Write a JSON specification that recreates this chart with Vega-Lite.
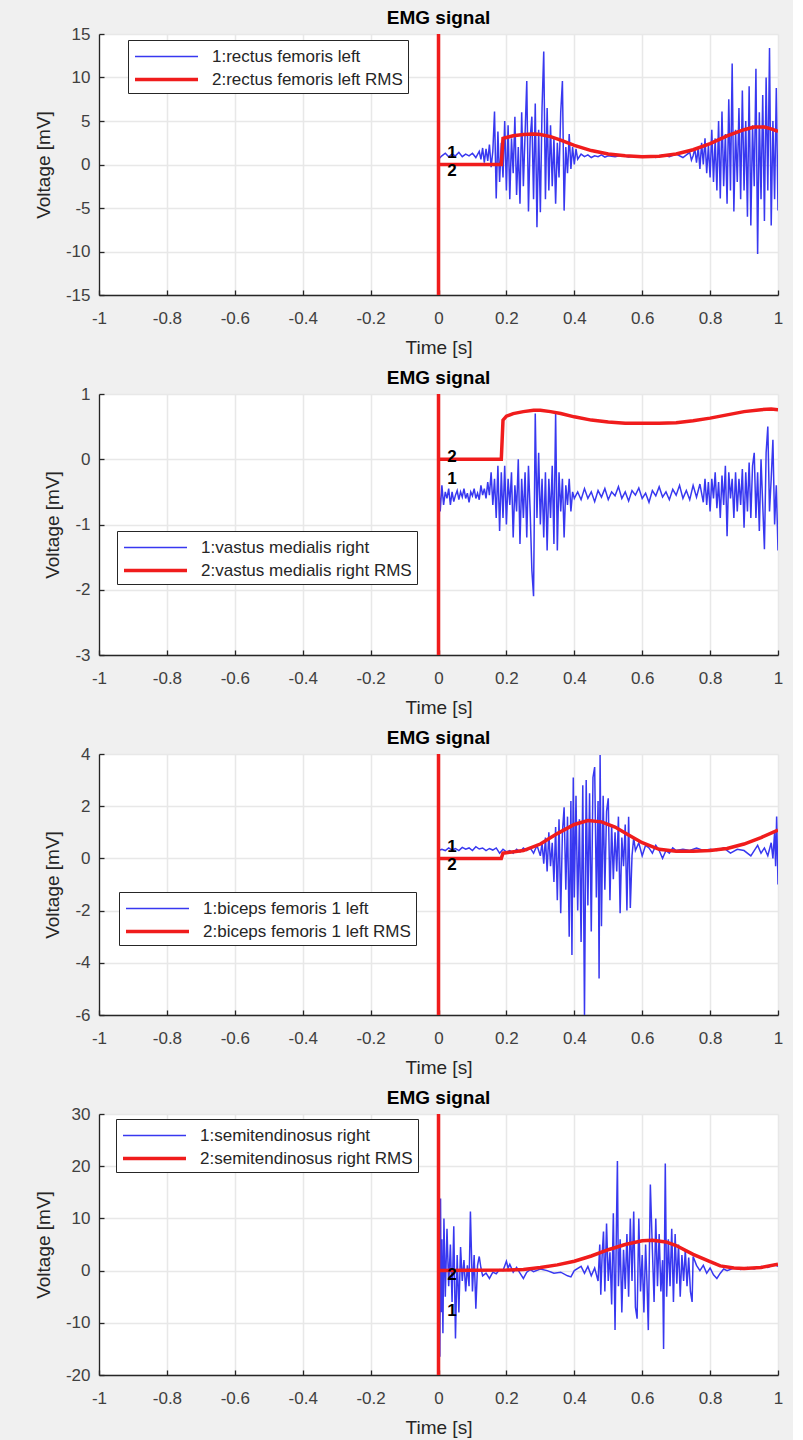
{
"$schema": "https://vega.github.io/schema/vega-lite/v6.json",
"background": "#f0f0f0",
"padding": {"left": 34, "top": 9, "right": 10, "bottom": 5},
"spacing": 12,
"datasets": {
"n1": [{"k":1,"name":"1:rectus femoris left"},{"k":2,"name":"2:rectus femoris left RMS"}],
"n2": [{"k":1,"name":"1:vastus medialis right"},{"k":2,"name":"2:vastus medialis right RMS"}],
"n3": [{"k":1,"name":"1:biceps femoris 1 left"},{"k":2,"name":"2:biceps femoris 1 left RMS"}],
"n4": [{"k":1,"name":"1:semitendinosus right"},{"k":2,"name":"2:semitendinosus right RMS"}],
"z": [{"t":0}],
"l1": [{"lbl":"1","t":0.04,"v":1.3},{"lbl":"2","t":0.04,"v":-0.8}],
"l2": [{"lbl":"2","t":0.04,"v":0.03},{"lbl":"1","t":0.04,"v":-0.3}],
"l3": [{"lbl":"1","t":0.04,"v":0.45},{"lbl":"2","t":0.04,"v":-0.26}],
"l4": [{"lbl":"2","t":0.04,"v":-0.8},{"lbl":"1","t":0.04,"v":-7.7}],
"s1": [
{"k":1,"t":0,"v":0.6},{"k":1,"t":0.01,"v":1.0},{"k":1,"t":0.02,"v":1.3},{"k":1,"t":0.03,"v":0.9},{"k":1,"t":0.04,"v":1.2},{"k":1,"t":0.05,"v":1.0},{"k":1,"t":0.06,"v":1.4},{"k":1,"t":0.07,"v":0.9},{"k":1,"t":0.08,"v":1.2},{"k":1,"t":0.09,"v":1.0},{"k":1,"t":0.1,"v":1.3},{"k":1,"t":0.11,"v":0.8},{"k":1,"t":0.12,"v":1.5},{"k":1,"t":0.125,"v":0.6},{"k":1,"t":0.13,"v":1.9},{"k":1,"t":0.135,"v":0.2},{"k":1,"t":0.14,"v":1.8},{"k":1,"t":0.145,"v":0.4},{"k":1,"t":0.15,"v":2.3},{"k":1,"t":0.155,"v":-0.3},{"k":1,"t":0.16,"v":1.5},{"k":1,"t":0.165,"v":6.1},{"k":1,"t":0.17,"v":-3.9},{"k":1,"t":0.175,"v":3.8},{"k":1,"t":0.18,"v":-2.0},{"k":1,"t":0.185,"v":2.5},{"k":1,"t":0.19,"v":-1.5},{"k":1,"t":0.195,"v":5.0},{"k":1,"t":0.2,"v":-3.0},{"k":1,"t":0.205,"v":4.5},{"k":1,"t":0.21,"v":-4.0},{"k":1,"t":0.215,"v":3.0},{"k":1,"t":0.22,"v":-1.0},{"k":1,"t":0.225,"v":5.5},{"k":1,"t":0.23,"v":-3.5},{"k":1,"t":0.235,"v":2.0},{"k":1,"t":0.24,"v":-4.5},{"k":1,"t":0.245,"v":6.0},{"k":1,"t":0.25,"v":-2.5},{"k":1,"t":0.255,"v":3.5},{"k":1,"t":0.26,"v":9.6},{"k":1,"t":0.265,"v":-5.4},{"k":1,"t":0.27,"v":3.0},{"k":1,"t":0.275,"v":5.5},{"k":1,"t":0.28,"v":-4.0},{"k":1,"t":0.285,"v":7.0},{"k":1,"t":0.29,"v":-7.2},{"k":1,"t":0.295,"v":4.0},{"k":1,"t":0.3,"v":-5.5},{"k":1,"t":0.305,"v":6.5},{"k":1,"t":0.31,"v":13.0},{"k":1,"t":0.315,"v":-4.0},{"k":1,"t":0.32,"v":6.5},{"k":1,"t":0.325,"v":-3.0},{"k":1,"t":0.33,"v":4.5},{"k":1,"t":0.335,"v":-2.5},{"k":1,"t":0.34,"v":3.0},{"k":1,"t":0.345,"v":-4.5},{"k":1,"t":0.35,"v":2.5},{"k":1,"t":0.355,"v":-1.5},{"k":1,"t":0.36,"v":6.0},{"k":1,"t":0.365,"v":9.6},{"k":1,"t":0.37,"v":-5.3},{"k":1,"t":0.375,"v":2.0},{"k":1,"t":0.38,"v":-1.0},{"k":1,"t":0.385,"v":3.5},{"k":1,"t":0.39,"v":-0.5},{"k":1,"t":0.395,"v":2.0},{"k":1,"t":0.4,"v":0.0},{"k":1,"t":0.405,"v":1.8},{"k":1,"t":0.41,"v":0.6},{"k":1,"t":0.42,"v":1.2},{"k":1,"t":0.43,"v":0.9},{"k":1,"t":0.44,"v":1.1},{"k":1,"t":0.45,"v":0.8},{"k":1,"t":0.46,"v":1.0},{"k":1,"t":0.47,"v":0.9},{"k":1,"t":0.48,"v":1.1},{"k":1,"t":0.49,"v":0.85},{"k":1,"t":0.5,"v":1.0},{"k":1,"t":0.52,"v":0.9},{"k":1,"t":0.54,"v":1.05},{"k":1,"t":0.56,"v":0.85},{"k":1,"t":0.58,"v":1.0},{"k":1,"t":0.6,"v":0.9},{"k":1,"t":0.62,"v":1.0},{"k":1,"t":0.64,"v":0.8},{"k":1,"t":0.66,"v":1.1},{"k":1,"t":0.68,"v":0.9},{"k":1,"t":0.7,"v":1.2},{"k":1,"t":0.72,"v":0.8},{"k":1,"t":0.74,"v":1.4},{"k":1,"t":0.745,"v":0.5},
{"k":1,"t":0.75,"v":1.0},{"k":1,"t":0.755,"v":1.8},{"k":1,"t":0.76,"v":0.2},{"k":1,"t":0.765,"v":2.0},{"k":1,"t":0.77,"v":-0.5},{"k":1,"t":0.775,"v":2.5},{"k":1,"t":0.78,"v":0.0},{"k":1,"t":0.785,"v":3.0},{"k":1,"t":0.79,"v":-1.0},{"k":1,"t":0.795,"v":2.2},{"k":1,"t":0.8,"v":-1.5},{"k":1,"t":0.805,"v":4.0},{"k":1,"t":0.81,"v":-2.0},{"k":1,"t":0.815,"v":3.0},{"k":1,"t":0.82,"v":-3.0},{"k":1,"t":0.825,"v":5.0},{"k":1,"t":0.83,"v":-3.9},{"k":1,"t":0.835,"v":6.1},{"k":1,"t":0.84,"v":-2.5},{"k":1,"t":0.845,"v":3.5},{"k":1,"t":0.85,"v":-4.5},{"k":1,"t":0.855,"v":7.5},{"k":1,"t":0.86,"v":-3.0},{"k":1,"t":0.865,"v":11.6},{"k":1,"t":0.87,"v":-5.4},{"k":1,"t":0.875,"v":4.0},{"k":1,"t":0.88,"v":-2.0},{"k":1,"t":0.885,"v":6.5},{"k":1,"t":0.89,"v":-4.0},{"k":1,"t":0.895,"v":8.5},{"k":1,"t":0.9,"v":-3.0},{"k":1,"t":0.905,"v":5.0},{"k":1,"t":0.91,"v":-6.0},{"k":1,"t":0.915,"v":9.0},{"k":1,"t":0.92,"v":-7.0},{"k":1,"t":0.925,"v":4.5},{"k":1,"t":0.93,"v":-2.5},{"k":1,"t":0.935,"v":11.0},{"k":1,"t":0.94,"v":-10.3},{"k":1,"t":0.945,"v":6.0},{"k":1,"t":0.95,"v":-4.0},{"k":1,"t":0.955,"v":8.0},{"k":1,"t":0.96,"v":-6.5},{"k":1,"t":0.965,"v":10.0},{"k":1,"t":0.97,"v":-3.0},{"k":1,"t":0.975,"v":13.4},{"k":1,"t":0.98,"v":-7.0},{"k":1,"t":0.985,"v":5.0},{"k":1,"t":0.99,"v":-4.0},{"k":1,"t":0.995,"v":8.8},{"k":1,"t":1.0,"v":-5.3},
{"k":2,"t":0,"v":0},{"k":2,"t":0.185,"v":0},{"k":2,"t":0.19,"v":3.0},{"k":2,"t":0.2,"v":3.1},{"k":2,"t":0.22,"v":3.3},{"k":2,"t":0.25,"v":3.45},{"k":2,"t":0.28,"v":3.5},{"k":2,"t":0.3,"v":3.45},{"k":2,"t":0.33,"v":3.2},{"k":2,"t":0.36,"v":2.8},{"k":2,"t":0.4,"v":2.2},{"k":2,"t":0.45,"v":1.6},{"k":2,"t":0.5,"v":1.2},{"k":2,"t":0.55,"v":1.0},{"k":2,"t":0.6,"v":0.9},{"k":2,"t":0.65,"v":0.95},{"k":2,"t":0.7,"v":1.2},{"k":2,"t":0.75,"v":1.7},{"k":2,"t":0.8,"v":2.4},{"k":2,"t":0.85,"v":3.3},{"k":2,"t":0.9,"v":4.0},{"k":2,"t":0.93,"v":4.3},{"k":2,"t":0.96,"v":4.3},{"k":2,"t":0.98,"v":4.1},{"k":2,"t":1.0,"v":3.8}
],
"s2": [
{"k":1,"t":0,"v":-0.3},{"k":1,"t":0.005,"v":-0.8},{"k":1,"t":0.01,"v":-0.4},{"k":1,"t":0.015,"v":-0.7},{"k":1,"t":0.02,"v":-0.5},{"k":1,"t":0.025,"v":-0.6},{"k":1,"t":0.03,"v":-0.45},{"k":1,"t":0.035,"v":-0.7},{"k":1,"t":0.04,"v":-0.5},{"k":1,"t":0.045,"v":-0.65},{"k":1,"t":0.05,"v":-0.55},{"k":1,"t":0.055,"v":-0.48},{"k":1,"t":0.06,"v":-0.62},{"k":1,"t":0.065,"v":-0.5},{"k":1,"t":0.07,"v":-0.58},{"k":1,"t":0.075,"v":-0.45},{"k":1,"t":0.08,"v":-0.6},{"k":1,"t":0.085,"v":-0.52},{"k":1,"t":0.09,"v":-0.66},{"k":1,"t":0.095,"v":-0.5},{"k":1,"t":0.1,"v":-0.56},{"k":1,"t":0.105,"v":-0.45},{"k":1,"t":0.11,"v":-0.6},{"k":1,"t":0.115,"v":-0.52},{"k":1,"t":0.12,"v":-0.62},{"k":1,"t":0.125,"v":-0.4},{"k":1,"t":0.13,"v":-0.55},{"k":1,"t":0.135,"v":-0.45},{"k":1,"t":0.14,"v":-0.6},{"k":1,"t":0.145,"v":-0.35},{"k":1,"t":0.15,"v":-0.55},{"k":1,"t":0.155,"v":-0.2},{"k":1,"t":0.16,"v":-0.7},{"k":1,"t":0.165,"v":-0.3},{"k":1,"t":0.17,"v":-0.9},{"k":1,"t":0.175,"v":-0.1},{"k":1,"t":0.18,"v":-1.1},{"k":1,"t":0.185,"v":-0.2},{"k":1,"t":0.19,"v":-0.9},{"k":1,"t":0.195,"v":-0.1},{"k":1,"t":0.2,"v":-1.0},{"k":1,"t":0.205,"v":-0.3},{"k":1,"t":0.21,"v":-0.7},{"k":1,"t":0.215,"v":-0.2},{"k":1,"t":0.22,"v":-1.2},{"k":1,"t":0.225,"v":-0.4},{"k":1,"t":0.23,"v":-0.8},{"k":1,"t":0.235,"v":0.0},{"k":1,"t":0.24,"v":-1.3},{"k":1,"t":0.245,"v":-0.3},{"k":1,"t":0.25,"v":-0.9},{"k":1,"t":0.255,"v":-0.2},{"k":1,"t":0.26,"v":-1.2},{"k":1,"t":0.265,"v":-0.1},{"k":1,"t":0.27,"v":-0.8},{"k":1,"t":0.275,"v":-1.7},{"k":1,"t":0.28,"v":-2.1},{"k":1,"t":0.285,"v":0.7},{"k":1,"t":0.29,"v":-0.9},{"k":1,"t":0.295,"v":0.1},{"k":1,"t":0.3,"v":-1.0},{"k":1,"t":0.305,"v":-0.3},{"k":1,"t":0.31,"v":-1.2},{"k":1,"t":0.315,"v":-0.2},{"k":1,"t":0.32,"v":-1.4},{"k":1,"t":0.325,"v":-0.3},{"k":1,"t":0.33,"v":-0.9},{"k":1,"t":0.335,"v":-0.1},{"k":1,"t":0.34,"v":-1.3},{"k":1,"t":0.345,"v":0.7},{"k":1,"t":0.35,"v":-1.4},{"k":1,"t":0.355,"v":-0.2},{"k":1,"t":0.36,"v":-0.8},{"k":1,"t":0.365,"v":-0.3},{"k":1,"t":0.37,"v":-1.2},{"k":1,"t":0.375,"v":-0.4},{"k":1,"t":0.38,"v":-0.7},{"k":1,"t":0.385,"v":-0.3},{"k":1,"t":0.39,"v":-0.8},{"k":1,"t":0.395,"v":-0.5},{"k":1,"t":0.4,"v":-0.6},
{"k":1,"t":0.41,"v":-0.5},{"k":1,"t":0.42,"v":-0.62},{"k":1,"t":0.43,"v":-0.45},{"k":1,"t":0.44,"v":-0.6},{"k":1,"t":0.45,"v":-0.5},{"k":1,"t":0.46,"v":-0.65},{"k":1,"t":0.47,"v":-0.48},{"k":1,"t":0.48,"v":-0.58},{"k":1,"t":0.49,"v":-0.45},{"k":1,"t":0.5,"v":-0.62},{"k":1,"t":0.51,"v":-0.5},{"k":1,"t":0.52,"v":-0.56},{"k":1,"t":0.53,"v":-0.42},{"k":1,"t":0.54,"v":-0.6},{"k":1,"t":0.55,"v":-0.5},{"k":1,"t":0.56,"v":-0.64},{"k":1,"t":0.57,"v":-0.48},{"k":1,"t":0.58,"v":-0.55},{"k":1,"t":0.59,"v":-0.44},{"k":1,"t":0.6,"v":-0.6},{"k":1,"t":0.61,"v":-0.52},{"k":1,"t":0.62,"v":-0.66},{"k":1,"t":0.63,"v":-0.48},{"k":1,"t":0.64,"v":-0.56},{"k":1,"t":0.65,"v":-0.42},{"k":1,"t":0.66,"v":-0.58},{"k":1,"t":0.67,"v":-0.5},{"k":1,"t":0.68,"v":-0.62},{"k":1,"t":0.69,"v":-0.46},{"k":1,"t":0.7,"v":-0.55},{"k":1,"t":0.71,"v":-0.4},{"k":1,"t":0.72,"v":-0.6},{"k":1,"t":0.73,"v":-0.48},{"k":1,"t":0.74,"v":-0.62},{"k":1,"t":0.75,"v":-0.4},{"k":1,"t":0.76,"v":-0.58},{"k":1,"t":0.77,"v":-0.38},{"k":1,"t":0.78,"v":-0.66},
{"k":1,"t":0.785,"v":-0.3},{"k":1,"t":0.79,"v":-0.7},{"k":1,"t":0.795,"v":-0.35},{"k":1,"t":0.8,"v":-0.8},{"k":1,"t":0.805,"v":-0.3},{"k":1,"t":0.81,"v":-0.6},{"k":1,"t":0.815,"v":-0.2},{"k":1,"t":0.82,"v":-0.75},{"k":1,"t":0.825,"v":-0.35},{"k":1,"t":0.83,"v":-0.9},{"k":1,"t":0.835,"v":-0.25},{"k":1,"t":0.84,"v":-0.7},{"k":1,"t":0.845,"v":-0.1},{"k":1,"t":0.85,"v":-1.18},{"k":1,"t":0.855,"v":-0.2},{"k":1,"t":0.86,"v":-0.6},{"k":1,"t":0.865,"v":-0.3},{"k":1,"t":0.87,"v":-0.9},{"k":1,"t":0.875,"v":-0.2},{"k":1,"t":0.88,"v":-0.8},{"k":1,"t":0.885,"v":-0.3},{"k":1,"t":0.89,"v":-0.7},{"k":1,"t":0.895,"v":-0.15},{"k":1,"t":0.9,"v":-1.05},{"k":1,"t":0.905,"v":-0.2},{"k":1,"t":0.91,"v":-0.8},{"k":1,"t":0.915,"v":-0.05},{"k":1,"t":0.92,"v":-0.9},{"k":1,"t":0.925,"v":-0.1},{"k":1,"t":0.93,"v":0.1},{"k":1,"t":0.935,"v":-0.9},{"k":1,"t":0.94,"v":-0.2},{"k":1,"t":0.945,"v":-1.1},{"k":1,"t":0.95,"v":0.0},{"k":1,"t":0.955,"v":-0.7},{"k":1,"t":0.96,"v":-1.38},{"k":1,"t":0.965,"v":0.1},{"k":1,"t":0.97,"v":0.5},{"k":1,"t":0.975,"v":-0.8},{"k":1,"t":0.98,"v":-0.3},{"k":1,"t":0.985,"v":0.3},{"k":1,"t":0.99,"v":-1.0},{"k":1,"t":0.995,"v":-0.4},{"k":1,"t":1.0,"v":-1.4},
{"k":2,"t":0,"v":0},{"k":2,"t":0.185,"v":0},{"k":2,"t":0.19,"v":0.6},{"k":2,"t":0.2,"v":0.66},{"k":2,"t":0.22,"v":0.7},{"k":2,"t":0.25,"v":0.73},{"k":2,"t":0.28,"v":0.75},{"k":2,"t":0.3,"v":0.75},{"k":2,"t":0.33,"v":0.73},{"k":2,"t":0.36,"v":0.7},{"k":2,"t":0.4,"v":0.65},{"k":2,"t":0.45,"v":0.6},{"k":2,"t":0.5,"v":0.57},{"k":2,"t":0.55,"v":0.55},{"k":2,"t":0.6,"v":0.55},{"k":2,"t":0.65,"v":0.55},{"k":2,"t":0.7,"v":0.56},{"k":2,"t":0.75,"v":0.59},{"k":2,"t":0.8,"v":0.63},{"k":2,"t":0.85,"v":0.68},{"k":2,"t":0.9,"v":0.73},{"k":2,"t":0.95,"v":0.76},{"k":2,"t":0.98,"v":0.77},{"k":2,"t":1.0,"v":0.76}
],
"s3": [
{"k":1,"t":0,"v":0.3},{"k":1,"t":0.01,"v":0.35},{"k":1,"t":0.02,"v":0.3},{"k":1,"t":0.03,"v":0.4},{"k":1,"t":0.04,"v":0.32},{"k":1,"t":0.05,"v":0.38},{"k":1,"t":0.06,"v":0.3},{"k":1,"t":0.07,"v":0.42},{"k":1,"t":0.08,"v":0.35},{"k":1,"t":0.09,"v":0.4},{"k":1,"t":0.1,"v":0.3},{"k":1,"t":0.11,"v":0.45},{"k":1,"t":0.12,"v":0.36},{"k":1,"t":0.13,"v":0.4},{"k":1,"t":0.14,"v":0.3},{"k":1,"t":0.15,"v":0.38},{"k":1,"t":0.16,"v":0.32},{"k":1,"t":0.17,"v":0.4},{"k":1,"t":0.18,"v":0.2},{"k":1,"t":0.19,"v":0.35},{"k":1,"t":0.2,"v":0.25},{"k":1,"t":0.21,"v":0.3},{"k":1,"t":0.22,"v":0.2},{"k":1,"t":0.23,"v":0.35},{"k":1,"t":0.24,"v":0.25},{"k":1,"t":0.25,"v":0.4},{"k":1,"t":0.26,"v":0.3},{"k":1,"t":0.27,"v":0.4},{"k":1,"t":0.28,"v":0.2},{"k":1,"t":0.29,"v":0.5},{"k":1,"t":0.3,"v":0.1},{"k":1,"t":0.305,"v":0.6},{"k":1,"t":0.31,"v":-0.2},{"k":1,"t":0.315,"v":0.8},{"k":1,"t":0.32,"v":-0.5},{"k":1,"t":0.325,"v":1.0},{"k":1,"t":0.33,"v":-0.3},{"k":1,"t":0.335,"v":0.6},{"k":1,"t":0.34,"v":-0.9},{"k":1,"t":0.345,"v":1.2},{"k":1,"t":0.35,"v":-1.6},{"k":1,"t":0.355,"v":1.5},{"k":1,"t":0.36,"v":-2.1},{"k":1,"t":0.365,"v":1.0},{"k":1,"t":0.37,"v":1.96},{"k":1,"t":0.375,"v":-1.2},{"k":1,"t":0.38,"v":1.6},{"k":1,"t":0.385,"v":-3.0},{"k":1,"t":0.39,"v":2.2},{"k":1,"t":0.393,"v":-3.7},{"k":1,"t":0.397,"v":3.1},{"k":1,"t":0.4,"v":-1.5},{"k":1,"t":0.405,"v":2.4},{"k":1,"t":0.41,"v":-2.0},{"k":1,"t":0.415,"v":1.5},{"k":1,"t":0.42,"v":-3.2},{"k":1,"t":0.425,"v":2.8},{"k":1,"t":0.43,"v":-6.0},{"k":1,"t":0.435,"v":3.0},{"k":1,"t":0.44,"v":-1.8},{"k":1,"t":0.445,"v":2.5},{"k":1,"t":0.45,"v":-2.8},{"k":1,"t":0.455,"v":3.1},{"k":1,"t":0.46,"v":3.5},{"k":1,"t":0.465,"v":-1.5},{"k":1,"t":0.47,"v":2.2},{"k":1,"t":0.473,"v":-4.6},{"k":1,"t":0.476,"v":3.96},{"k":1,"t":0.48,"v":-2.6},{"k":1,"t":0.485,"v":2.4},{"k":1,"t":0.49,"v":-1.2},{"k":1,"t":0.495,"v":1.8},{"k":1,"t":0.5,"v":2.3},{"k":1,"t":0.505,"v":-1.6},{"k":1,"t":0.51,"v":1.3},{"k":1,"t":0.515,"v":-0.8},{"k":1,"t":0.52,"v":1.0},{"k":1,"t":0.525,"v":-0.5},{"k":1,"t":0.53,"v":1.6},{"k":1,"t":0.535,"v":-2.1},{"k":1,"t":0.54,"v":0.8},{"k":1,"t":0.545,"v":-0.3},{"k":1,"t":0.55,"v":1.3},{"k":1,"t":0.555,"v":-2.0},{"k":1,"t":0.56,"v":1.6},{"k":1,"t":0.565,"v":-1.9},{"k":1,"t":0.57,"v":0.1},{"k":1,"t":0.575,"v":0.8},{"k":1,"t":0.58,"v":0.3},{"k":1,"t":0.59,"v":0.6},{"k":1,"t":0.6,"v":0.1},{"k":1,"t":0.61,"v":0.5},{"k":1,"t":0.62,"v":0.4},{"k":1,"t":0.63,"v":0.2},{"k":1,"t":0.64,"v":0.5},{"k":1,"t":0.65,"v":0.3},{"k":1,"t":0.66,"v":0.0},{"k":1,"t":0.67,"v":0.3},{"k":1,"t":0.68,"v":0.2},{"k":1,"t":0.69,"v":0.4},{"k":1,"t":0.7,"v":0.3},{"k":1,"t":0.72,"v":0.35},{"k":1,"t":0.74,"v":0.3},{"k":1,"t":0.76,"v":0.4},{"k":1,"t":0.78,"v":0.3},{"k":1,"t":0.8,"v":0.35},{"k":1,"t":0.82,"v":0.3},{"k":1,"t":0.84,"v":0.4},{"k":1,"t":0.86,"v":0.2},{"k":1,"t":0.88,"v":0.35},{"k":1,"t":0.9,"v":0.3},{"k":1,"t":0.92,"v":0.1},{"k":1,"t":0.93,"v":0.3},{"k":1,"t":0.94,"v":0.5},{"k":1,"t":0.95,"v":0.2},{"k":1,"t":0.96,"v":0.4},{"k":1,"t":0.97,"v":0.1},{"k":1,"t":0.98,"v":0.6},{"k":1,"t":0.985,"v":0.0},{"k":1,"t":0.99,"v":1.0},{"k":1,"t":0.993,"v":-0.3},{"k":1,"t":0.996,"v":1.6},{"k":1,"t":1.0,"v":-1.0},
{"k":2,"t":0,"v":0},{"k":2,"t":0.185,"v":0},{"k":2,"t":0.19,"v":0.2},{"k":2,"t":0.2,"v":0.22},{"k":2,"t":0.25,"v":0.3},{"k":2,"t":0.3,"v":0.55},{"k":2,"t":0.35,"v":0.95},{"k":2,"t":0.4,"v":1.3},{"k":2,"t":0.44,"v":1.45},{"k":2,"t":0.48,"v":1.4},{"k":2,"t":0.52,"v":1.2},{"k":2,"t":0.56,"v":0.9},{"k":2,"t":0.6,"v":0.6},{"k":2,"t":0.65,"v":0.35},{"k":2,"t":0.7,"v":0.27},{"k":2,"t":0.75,"v":0.27},{"k":2,"t":0.8,"v":0.3},{"k":2,"t":0.85,"v":0.38},{"k":2,"t":0.9,"v":0.55},{"k":2,"t":0.95,"v":0.8},{"k":2,"t":1.0,"v":1.08}
],
"s4": [
{"k":1,"t":0,"v":0.0},{"k":1,"t":0.002,"v":15.0},{"k":1,"t":0.004,"v":-16.5},{"k":1,"t":0.006,"v":13.8},{"k":1,"t":0.008,"v":-8.0},{"k":1,"t":0.01,"v":6.0},{"k":1,"t":0.013,"v":-12.0},{"k":1,"t":0.016,"v":10.0},{"k":1,"t":0.02,"v":-5.0},{"k":1,"t":0.025,"v":8.0},{"k":1,"t":0.03,"v":-3.0},{"k":1,"t":0.035,"v":5.0},{"k":1,"t":0.04,"v":-6.0},{"k":1,"t":0.045,"v":8.5},{"k":1,"t":0.05,"v":-13.0},{"k":1,"t":0.055,"v":3.0},{"k":1,"t":0.06,"v":-8.0},{"k":1,"t":0.065,"v":4.5},{"k":1,"t":0.07,"v":-2.0},{"k":1,"t":0.075,"v":2.0},{"k":1,"t":0.08,"v":-4.0},{"k":1,"t":0.085,"v":1.0},{"k":1,"t":0.09,"v":-3.0},{"k":1,"t":0.094,"v":11.3},{"k":1,"t":0.1,"v":-4.0},{"k":1,"t":0.105,"v":3.0},{"k":1,"t":0.11,"v":-7.3},{"k":1,"t":0.115,"v":1.0},{"k":1,"t":0.12,"v":2.7},{"k":1,"t":0.125,"v":0.5},{"k":1,"t":0.13,"v":-1.0},{"k":1,"t":0.14,"v":-0.5},{"k":1,"t":0.15,"v":-1.5},{"k":1,"t":0.16,"v":-0.3},{"k":1,"t":0.17,"v":-0.6},{"k":1,"t":0.18,"v":0.2},{"k":1,"t":0.19,"v":0.0},{"k":1,"t":0.2,"v":1.8},{"k":1,"t":0.205,"v":0.5},{"k":1,"t":0.21,"v":1.2},{"k":1,"t":0.22,"v":-0.3},{"k":1,"t":0.23,"v":0.6},{"k":1,"t":0.24,"v":-0.5},{"k":1,"t":0.25,"v":-1.5},{"k":1,"t":0.26,"v":-0.3},{"k":1,"t":0.27,"v":0.2},{"k":1,"t":0.28,"v":-0.2},{"k":1,"t":0.3,"v":0.3},{"k":1,"t":0.32,"v":0.0},{"k":1,"t":0.34,"v":-0.5},{"k":1,"t":0.36,"v":-0.3},{"k":1,"t":0.38,"v":-1.0},{"k":1,"t":0.39,"v":-1.2},{"k":1,"t":0.4,"v":0.0},{"k":1,"t":0.42,"v":0.8},{"k":1,"t":0.43,"v":-0.5},{"k":1,"t":0.44,"v":0.8},{"k":1,"t":0.45,"v":-1.0},{"k":1,"t":0.46,"v":0.5},{"k":1,"t":0.47,"v":-2.0},{"k":1,"t":0.475,"v":5.0},{"k":1,"t":0.478,"v":-4.6},{"k":1,"t":0.482,"v":3.0},{"k":1,"t":0.486,"v":7.5},{"k":1,"t":0.49,"v":-4.0},{"k":1,"t":0.495,"v":9.0},{"k":1,"t":0.5,"v":-2.0},{"k":1,"t":0.505,"v":3.5},{"k":1,"t":0.51,"v":-6.5},{"k":1,"t":0.515,"v":11.0},{"k":1,"t":0.52,"v":-11.4},{"k":1,"t":0.524,"v":8.0},{"k":1,"t":0.527,"v":21.0},{"k":1,"t":0.53,"v":-3.0},{"k":1,"t":0.535,"v":6.0},{"k":1,"t":0.54,"v":-8.0},{"k":1,"t":0.545,"v":4.0},{"k":1,"t":0.55,"v":-3.5},{"k":1,"t":0.555,"v":7.0},{"k":1,"t":0.56,"v":-5.0},{"k":1,"t":0.565,"v":10.0},{"k":1,"t":0.57,"v":-2.0},{"k":1,"t":0.575,"v":11.3},{"k":1,"t":0.58,"v":-7.0},{"k":1,"t":0.585,"v":-9.2},{"k":1,"t":0.59,"v":10.0},{"k":1,"t":0.595,"v":-4.0},{"k":1,"t":0.6,"v":3.0},{"k":1,"t":0.605,"v":-8.0},{"k":1,"t":0.61,"v":5.0},{"k":1,"t":0.614,"v":-2.0},{"k":1,"t":0.618,"v":-11.4},{"k":1,"t":0.624,"v":16.5},{"k":1,"t":0.63,"v":4.0},{"k":1,"t":0.635,"v":-6.0},{"k":1,"t":0.64,"v":10.0},{"k":1,"t":0.645,"v":-3.0},{"k":1,"t":0.65,"v":7.0},{"k":1,"t":0.655,"v":-4.0},{"k":1,"t":0.66,"v":2.0},{"k":1,"t":0.663,"v":-15.0},{"k":1,"t":0.668,"v":20.5},{"k":1,"t":0.672,"v":-5.0},{"k":1,"t":0.677,"v":6.0},{"k":1,"t":0.682,"v":-3.0},{"k":1,"t":0.687,"v":8.0},{"k":1,"t":0.692,"v":-6.0},{"k":1,"t":0.697,"v":7.0},{"k":1,"t":0.702,"v":-2.5},{"k":1,"t":0.707,"v":5.0},{"k":1,"t":0.712,"v":-5.0},{"k":1,"t":0.717,"v":3.0},{"k":1,"t":0.722,"v":-2.0},{"k":1,"t":0.727,"v":4.0},{"k":1,"t":0.732,"v":-3.0},{"k":1,"t":0.737,"v":2.5},{"k":1,"t":0.742,"v":-4.0},{"k":1,"t":0.747,"v":-6.0},{"k":1,"t":0.75,"v":2.7},{"k":1,"t":0.76,"v":1.0},{"k":1,"t":0.77,"v":0.0},{"k":1,"t":0.78,"v":1.0},{"k":1,"t":0.79,"v":-0.5},{"k":1,"t":0.8,"v":0.5},{"k":1,"t":0.81,"v":-0.8},{"k":1,"t":0.82,"v":-1.5},{"k":1,"t":0.83,"v":-0.5},{"k":1,"t":0.84,"v":0.3},{"k":1,"t":0.85,"v":0.0},{"k":1,"t":0.87,"v":0.5},{"k":1,"t":0.89,"v":0.2},{"k":1,"t":0.91,"v":0.6},{"k":1,"t":0.93,"v":0.3},{"k":1,"t":0.95,"v":0.8},{"k":1,"t":0.97,"v":0.6},{"k":1,"t":0.99,"v":1.2},{"k":1,"t":1.0,"v":0.8},
{"k":2,"t":0,"v":0},{"k":2,"t":0.2,"v":0.1},{"k":2,"t":0.25,"v":0.2},{"k":2,"t":0.3,"v":0.6},{"k":2,"t":0.35,"v":1.1},{"k":2,"t":0.4,"v":1.8},{"k":2,"t":0.45,"v":2.8},{"k":2,"t":0.5,"v":4.0},{"k":2,"t":0.55,"v":5.0},{"k":2,"t":0.6,"v":5.7},{"k":2,"t":0.63,"v":5.8},{"k":2,"t":0.67,"v":5.5},{"k":2,"t":0.7,"v":4.8},{"k":2,"t":0.75,"v":3.1},{"k":2,"t":0.8,"v":1.7},{"k":2,"t":0.83,"v":0.9},{"k":2,"t":0.87,"v":0.5},{"k":2,"t":0.9,"v":0.4},{"k":2,"t":0.95,"v":0.6},{"k":2,"t":1.0,"v":1.2}
]
},
"vconcat": [
{
"title": "EMG signal", "width": 679, "height": 261,
"data": {"name": "s1"},
"transform": [{"lookup": "k", "from": {"data": {"name": "n1"}, "key": "k", "fields": ["name"]}}],
"encoding": {
"x": {"field": "t", "type": "quantitative", "scale": {"domain": [-1, 1], "nice": false}, "axis": {"title": "Time [s]", "values": [-1,-0.8,-0.6,-0.4,-0.2,0,0.2,0.4,0.6,0.8,1], "labelExpr": "'' + datum.value"}},
"y": {"field": "v", "type": "quantitative", "scale": {"domain": [-15, 15], "nice": false, "zero": false}, "axis": {"title": "Voltage [mV]", "values": [-15,-10,-5,0,5,10,15], "labelExpr": "'' + datum.value"}}
},
"layer": [
{"transform": [{"filter": "datum.k == 1"}], "mark": {"type": "line", "clip": true},
 "encoding": {"color": {"field": "name", "type": "nominal", "scale": {"domain": ["1:rectus femoris left", "2:rectus femoris left RMS"], "range": ["#3838f0", "#f01c1c"]}, "legend": {"legendX": 29, "legendY": 6}},
  "strokeWidth": {"field": "name", "type": "nominal", "scale": {"domain": ["1:rectus femoris left", "2:rectus femoris left RMS"], "range": [1.5, 3.5]}, "legend": {"legendX": 29, "legendY": 6}}}},
{"transform": [{"filter": "datum.k == 2"}], "mark": {"type": "line", "clip": true},
 "encoding": {"color": {"field": "name", "type": "nominal"}, "strokeWidth": {"field": "name", "type": "nominal"}}},
{"data": {"name": "z"}, "mark": {"type": "rule", "color": "#f01c1c", "strokeWidth": 3.5}, "encoding": {"x": {"field": "t", "type": "quantitative"}, "y": null}},
{"data": {"name": "l1"}, "mark": {"type": "text", "fontSize": 17, "fontWeight": "bold", "color": "#000000"}, "encoding": {"text": {"field": "lbl"}}}
]
},
{
"title": "EMG signal", "width": 679, "height": 261,
"data": {"name": "s2"},
"transform": [{"lookup": "k", "from": {"data": {"name": "n2"}, "key": "k", "fields": ["name"]}}],
"encoding": {
"x": {"field": "t", "type": "quantitative", "scale": {"domain": [-1, 1], "nice": false}, "axis": {"title": "Time [s]", "values": [-1,-0.8,-0.6,-0.4,-0.2,0,0.2,0.4,0.6,0.8,1], "labelExpr": "'' + datum.value"}},
"y": {"field": "v", "type": "quantitative", "scale": {"domain": [-3, 1], "nice": false, "zero": false}, "axis": {"title": "Voltage [mV]", "values": [-3,-2,-1,0,1], "labelExpr": "'' + datum.value"}}
},
"layer": [
{"transform": [{"filter": "datum.k == 1"}], "mark": {"type": "line", "clip": true},
 "encoding": {"color": {"field": "name", "type": "nominal", "scale": {"domain": ["1:vastus medialis right", "2:vastus medialis right RMS"], "range": ["#3838f0", "#f01c1c"]}, "legend": {"legendX": 18, "legendY": 137}},
  "strokeWidth": {"field": "name", "type": "nominal", "scale": {"domain": ["1:vastus medialis right", "2:vastus medialis right RMS"], "range": [1.5, 3.5]}, "legend": {"legendX": 18, "legendY": 137}}}},
{"transform": [{"filter": "datum.k == 2"}], "mark": {"type": "line", "clip": true},
 "encoding": {"color": {"field": "name", "type": "nominal"}, "strokeWidth": {"field": "name", "type": "nominal"}}},
{"data": {"name": "z"}, "mark": {"type": "rule", "color": "#f01c1c", "strokeWidth": 3.5}, "encoding": {"x": {"field": "t", "type": "quantitative"}, "y": null}},
{"data": {"name": "l2"}, "mark": {"type": "text", "fontSize": 17, "fontWeight": "bold", "color": "#000000"}, "encoding": {"text": {"field": "lbl"}}}
]
},
{
"title": "EMG signal", "width": 679, "height": 261,
"data": {"name": "s3"},
"transform": [{"lookup": "k", "from": {"data": {"name": "n3"}, "key": "k", "fields": ["name"]}}],
"encoding": {
"x": {"field": "t", "type": "quantitative", "scale": {"domain": [-1, 1], "nice": false}, "axis": {"title": "Time [s]", "values": [-1,-0.8,-0.6,-0.4,-0.2,0,0.2,0.4,0.6,0.8,1], "labelExpr": "'' + datum.value"}},
"y": {"field": "v", "type": "quantitative", "scale": {"domain": [-6, 4], "nice": false, "zero": false}, "axis": {"title": "Voltage [mV]", "values": [-6,-4,-2,0,2,4], "labelExpr": "'' + datum.value"}}
},
"layer": [
{"transform": [{"filter": "datum.k == 1"}], "mark": {"type": "line", "clip": true},
 "encoding": {"color": {"field": "name", "type": "nominal", "scale": {"domain": ["1:biceps femoris 1 left", "2:biceps femoris 1 left RMS"], "range": ["#3838f0", "#f01c1c"]}, "legend": {"legendX": 20, "legendY": 138}},
  "strokeWidth": {"field": "name", "type": "nominal", "scale": {"domain": ["1:biceps femoris 1 left", "2:biceps femoris 1 left RMS"], "range": [1.5, 3.5]}, "legend": {"legendX": 20, "legendY": 138}}}},
{"transform": [{"filter": "datum.k == 2"}], "mark": {"type": "line", "clip": true},
 "encoding": {"color": {"field": "name", "type": "nominal"}, "strokeWidth": {"field": "name", "type": "nominal"}}},
{"data": {"name": "z"}, "mark": {"type": "rule", "color": "#f01c1c", "strokeWidth": 3.5}, "encoding": {"x": {"field": "t", "type": "quantitative"}, "y": null}},
{"data": {"name": "l3"}, "mark": {"type": "text", "fontSize": 17, "fontWeight": "bold", "color": "#000000"}, "encoding": {"text": {"field": "lbl"}}}
]
},
{
"title": "EMG signal", "width": 679, "height": 261,
"data": {"name": "s4"},
"transform": [{"lookup": "k", "from": {"data": {"name": "n4"}, "key": "k", "fields": ["name"]}}],
"encoding": {
"x": {"field": "t", "type": "quantitative", "scale": {"domain": [-1, 1], "nice": false}, "axis": {"title": "Time [s]", "values": [-1,-0.8,-0.6,-0.4,-0.2,0,0.2,0.4,0.6,0.8,1], "labelExpr": "'' + datum.value"}},
"y": {"field": "v", "type": "quantitative", "scale": {"domain": [-20, 30], "nice": false, "zero": false}, "axis": {"title": "Voltage [mV]", "values": [-20,-10,0,10,20,30], "labelExpr": "'' + datum.value"}}
},
"layer": [
{"transform": [{"filter": "datum.k == 1"}], "mark": {"type": "line", "clip": true},
 "encoding": {"color": {"field": "name", "type": "nominal", "scale": {"domain": ["1:semitendinosus right", "2:semitendinosus right RMS"], "range": ["#3838f0", "#f01c1c"]}, "legend": {"legendX": 17, "legendY": 5}},
  "strokeWidth": {"field": "name", "type": "nominal", "scale": {"domain": ["1:semitendinosus right", "2:semitendinosus right RMS"], "range": [1.5, 3.5]}, "legend": {"legendX": 17, "legendY": 5}}}},
{"transform": [{"filter": "datum.k == 2"}], "mark": {"type": "line", "clip": true},
 "encoding": {"color": {"field": "name", "type": "nominal"}, "strokeWidth": {"field": "name", "type": "nominal"}}},
{"data": {"name": "z"}, "mark": {"type": "rule", "color": "#f01c1c", "strokeWidth": 3.5}, "encoding": {"x": {"field": "t", "type": "quantitative"}, "y": null}},
{"data": {"name": "l4"}, "mark": {"type": "text", "fontSize": 17, "fontWeight": "bold", "color": "#000000"}, "encoding": {"text": {"field": "lbl"}}}
]
}
],
"resolve": {"scale": {"color": "independent", "strokeWidth": "independent", "x": "independent", "y": "independent"}, "legend": {"color": "independent", "strokeWidth": "independent"}},
"config": {
"font": "Liberation Sans",
"view": {"stroke": null, "fill": "#ffffff"},
"axis": {"domainColor": "#262626", "domainWidth": 1.3, "tickColor": "#262626", "tickWidth": 1.3, "tickSize": -5, "labelFontSize": 17, "labelColor": "#404040", "labelFlush": false, "labelOverlap": false, "titleFontSize": 19, "titleFontWeight": "normal", "titleColor": "#262626", "gridColor": "#e8e8e8", "gridWidth": 1.5},
"axisX": {"labelPadding": 20, "titlePadding": 12},
"axisY": {"labelPadding": 14, "titlePadding": 12},
"title": {"fontSize": 19, "fontWeight": "bold", "color": "#000000", "offset": -3, "frame": "group"},
"legend": {"orient": "none", "title": null, "strokeColor": "#262626", "fillColor": "#ffffff", "padding": 5, "labelFontSize": 17, "labelColor": "#262626", "labelLimit": 500, "symbolType": "M-3,0H3", "symbolSize": 441, "symbolOffset": 21, "labelOffset": 33, "rowPadding": 2}
}
}
